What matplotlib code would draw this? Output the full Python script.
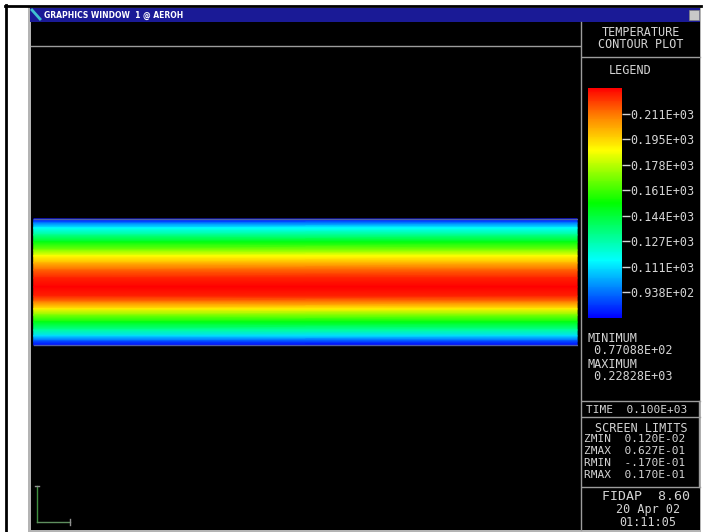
import matplotlib
matplotlib.use('Agg')
import numpy as np
import matplotlib.pyplot as plt
from matplotlib.colors import LinearSegmentedColormap, Normalize
from matplotlib.cm import ScalarMappable
from matplotlib.patches import Rectangle

# =======================================================================================
# Data
# =======================================================================================

# screen limits of the plot window
z_limits = [0.120e-02, 0.627e-01]
r_limits = [-0.170e-01, 0.170e-01]

# channel extent along z
channel_z = [0.0015, 0.0626]

# temperature profile across the channel (r from upper wall to lower wall)
profile_r = [0.00489, 0.00461, 0.00426, 0.00377, 0.00327, 0.00271, 0.00229, 0.00180,
             0.00130, 0.00074, 0.00011, -0.00053, -0.00095, -0.00144, -0.00187,
             -0.00236, -0.00292, -0.00334, -0.00370, -0.00398]
profile_t = [78, 95, 115, 132, 150, 170, 187, 200, 214, 223, 228, 223, 210, 190, 170,
             150, 130, 110, 90, 78]

t_min = 0.77088e+02
t_max = 0.22828e+03

legend_levels = [211.5, 194.7, 177.9, 161.1, 144.3, 127.5, 110.7, 93.88]
legend_labels = ['0.211E+03', '0.195E+03', '0.178E+03', '0.161E+03',
                 '0.144E+03', '0.127E+03', '0.111E+03', '0.938E+02']

panel_lines = ['MINIMUM', ' 0.77088E+02', 'MAXIMUM', ' 0.22828E+03']
limit_lines = ['ZMIN  0.120E-02', 'ZMAX  0.627E-01', 'RMIN  -.170E-01', 'RMAX  0.170E-01']

# =======================================================================================
# Setup
# =======================================================================================

plt.rcParams['font.family'] = ['DejaVu Sans Mono']
W, H = 703, 532
TXT = '#d4d4d4'
GRAY = '#9c9c9c'

fidap = LinearSegmentedColormap.from_list('fidap', [
    (0.0, '#0000ff'), (0.25, '#00ffff'), (0.5, '#00ff00'),
    (0.73, '#ffff00'), (0.88, '#ff8000'), (1.0, '#ff0000')])
norm = Normalize(vmin=t_min, vmax=t_max)

def rect(x0, y0, x1, y1):
    # pixel box -> figure fraction
    return [x0 / W, 1 - y1 / H, (x1 - x0) / W, (y1 - y0) / H]

fig = plt.figure(figsize=(W / 100, H / 100), dpi=100, facecolor='white')

# chrome (window frame, panel text) in pixel coordinates
bg = fig.add_axes([0, 0, 1, 1])
bg.set_xlim(0, W)
bg.set_ylim(H, 0)
bg.axis('off')

bg.plot([5.5, 5.5], [5, H], color='black', lw=2)
bg.plot([5, 701], [5.5, 5.5], color='black', lw=2)
bg.add_patch(Rectangle((28, 7), 673, H - 7, facecolor='#b4b4b4', edgecolor='none'))
bg.add_patch(Rectangle((30, 8), 670, 14, facecolor='#1a1a96', edgecolor='none'))
bg.add_patch(Rectangle((689, 10), 10, 10, facecolor='#c8c8c8', edgecolor='#808080', lw=0.5))
bg.add_patch(Rectangle((31, 22), 669, H - 24, facecolor='black', edgecolor='none'))
bg.plot([32, 40], [10, 19], color='#40c0d0', lw=2)
bg.text(44, 15.5, 'GRAPHICS WINDOW  1 @ AEROH', color='white', fontsize=5.5,
        fontweight='bold', va='center', ha='left', family='DejaVu Sans')

# separators
bg.plot([31, 580], [46, 46], color=GRAY, lw=1)
bg.plot([580.5, 580.5], [22, H - 2], color=GRAY, lw=1)
for yy in [57, 401, 417, 487]:
    bg.plot([582, 700], [yy, yy], color=GRAY, lw=1)
bg.plot([699, 699], [401, 487], color=GRAY, lw=1)

# right panel text
fs = 8.5
bg.text(641, 32, 'TEMPERATURE', color=TXT, fontsize=fs, ha='center', va='center')
bg.text(641, 44, 'CONTOUR PLOT', color=TXT, fontsize=fs, ha='center', va='center')
bg.text(630, 70, 'LEGEND', color=TXT, fontsize=fs, ha='center', va='center')
for i, s in enumerate(panel_lines):
    bg.text(587, 338 + i * 13, s, color=TXT, fontsize=fs, ha='left', va='center')
bg.text(586, 410, 'TIME  0.100E+03', color=TXT, fontsize=fs - 0.5, ha='left', va='center')
bg.text(641, 428, 'SCREEN LIMITS', color=TXT, fontsize=fs, ha='center', va='center')
for i, s in enumerate(limit_lines):
    bg.text(584, 439 + i * 12, s, color=TXT, fontsize=fs - 0.5, ha='left', va='center')
bg.text(646, 497, 'FIDAP  8.60', color=TXT, fontsize=fs + 1, ha='center', va='center')
bg.text(648, 510, '20 Apr 02', color=TXT, fontsize=fs, ha='center', va='center')
bg.text(648, 522, '01:11:05', color=TXT, fontsize=fs, ha='center', va='center')

# axis triad bottom-left
bg.plot([37, 37], [486, 522], color='#3f8f3f', lw=1)
bg.plot([37, 70], [522, 522], color='#5f8f5f', lw=1)
bg.plot([35, 39], [486, 486], color='#909090', lw=1)
bg.plot([70, 70], [519, 525], color='#909090', lw=1)

# =======================================================================================
# Temperature field
# =======================================================================================

ax = fig.add_axes(rect(31, 47, 578, 530))
ax.set_facecolor('black')
ax.set_xlim(z_limits)
ax.set_ylim(r_limits)
ax.axis('off')

zz, rr = np.meshgrid(channel_z, profile_r)
tt = np.array([profile_t, profile_t]).T
ax.pcolormesh(zz, rr, tt, cmap=fidap, norm=norm, shading='gouraud')
ax.plot(channel_z, [profile_r[0]] * 2, color='#5060a8', lw=1)
ax.plot(channel_z, [profile_r[-1]] * 2, color='#5060a8', lw=1)

# =======================================================================================
# Legend bar
# =======================================================================================

cax = fig.add_axes(rect(588, 88, 622, 318))
sm = ScalarMappable(norm=norm, cmap=fidap)
cb = fig.colorbar(sm, cax=cax, ticks=legend_levels)
cb.outline.set_visible(False)
cax.set_yticklabels(legend_labels)
cax.tick_params(colors=TXT, length=6, width=1, labelsize=fs, pad=0)

fig.savefig('out.png', dpi=100, facecolor='white')
